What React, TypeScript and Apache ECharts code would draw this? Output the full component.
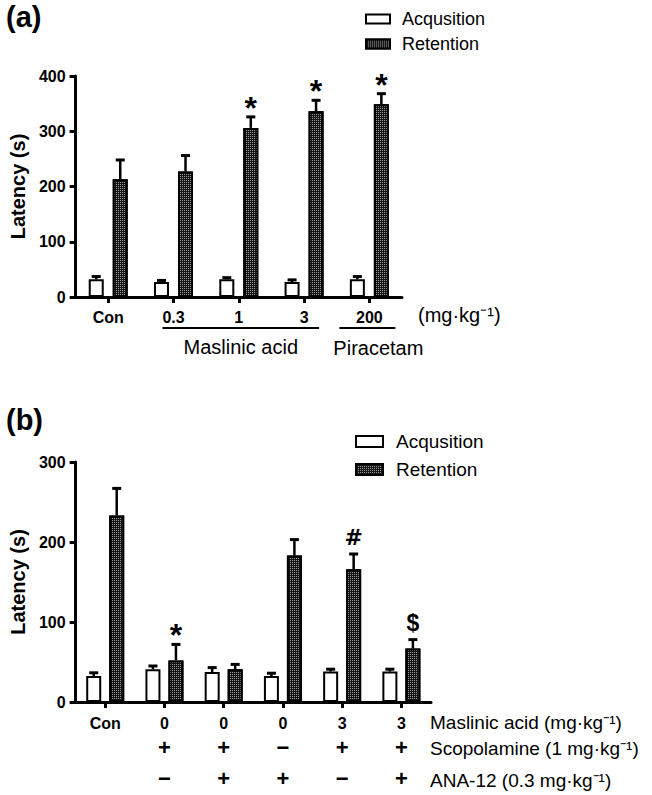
import React, { useEffect, useRef } from "react";
import * as echarts from "echarts";

// ---------- Data: panel (a) ----------
const catsA = ["Con", "0.3", "1", "3", "200"];
const acqA = [32, 27, 32, 27, 32];
const acqTopA = [37, 30, 35, 31, 37];
const retA = [213, 227, 306, 336, 349];
const retTopA = [248, 256, 326, 356, 368];
const sigA = ["", "", "*", "*", "*"];
const yTicksA = { min: 0, max: 400, interval: 100 };

// ---------- Data: panel (b) ----------
const catsB = ["Con", "0", "0", "0", "3", "3"];
const scopRowB = ["", "+", "+", "−", "+", "+"];
const anaRowB = ["", "−", "+", "+", "−", "+"];
const acqB = [32.5, 41, 37.5, 32.5, 38, 38];
const acqTopB = [36.5, 45, 43, 36, 41, 41];
const retB = [233, 52, 41, 183, 166, 67];
const retTopB = [267, 72, 47, 203, 185, 78];
const sigB = ["", "*", "", "", "#", "$"];
const yTicksB = { min: 0, max: 300, interval: 100 };

// ---------- Texts ----------
const seriesNames = ["Acqusition", "Retention"];
const yTitle = "Latency (s)";
const panelA = "(a)";
const panelB = "(b)";
const unitA = "(mg·kg⁻¹)";
const groupA1 = "Maslinic acid";
const groupA2 = "Piracetam";
const rowLabelsB = ["Maslinic acid (mg·kg⁻¹)", "Scopolamine (1 mg·kg⁻¹)", "ANA-12 (0.3 mg·kg⁻¹)"];

const FONT = "'Liberation Sans', Arial, Helvetica, sans-serif";
const HEAVY = "'DejaVu Sans', 'Liberation Sans', sans-serif";

const BAR_W = 15;
const GAP_A = 9;
const GAP_B = 8;

const sigStyle: Record<string, { size: number; dy: number; font: string }> = {
  "*": { size: 32, dy: 9, font: FONT },
  "#": { size: 22, dy: 17, font: HEAVY },
  "$": { size: 23, dy: 17, font: FONT },
};

const decal = {
  symbol: "rect",
  symbolSize: 1,
  color: "#9a9a9a",
  dashArrayX: [1, 1],
  dashArrayY: [1, 1],
  rotation: 0,
};

function errSeries(
  name: string,
  xi: number,
  yi: number,
  vals: number[],
  tops: number[],
  sigs: string[],
  offset: number
) {
  return {
    type: "custom",
    name: name + "-err",
    xAxisIndex: xi,
    yAxisIndex: yi,
    z: 5,
    silent: true,
    encode: { x: 0, y: [1, 2] },
    data: vals.map((v, i) => [i, v, tops[i]]),
    renderItem: (params: any, api: any) => {
      const idx = api.value(0);
      const base = api.coord([idx, api.value(1)]);
      const top = api.coord([idx, api.value(2)]);
      const x = base[0] + offset;
      const children: any[] = [
        { type: "line", shape: { x1: x, y1: base[1], x2: x, y2: top[1] }, style: { stroke: "#000", lineWidth: 2.5 } },
        { type: "line", shape: { x1: x - 4.5, y1: top[1], x2: x + 4.5, y2: top[1] }, style: { stroke: "#000", lineWidth: 3 } },
      ];
      const s = sigs[params.dataIndex];
      if (s) {
        const st = sigStyle[s];
        children.push({
          type: "text",
          x: x,
          y: top[1] - st.dy,
          style: {
            text: s,
            fontSize: st.size,
            fontWeight: "bold",
            fontFamily: st.font,
            fill: "#000",
            textAlign: "center",
            align: "center",
            textVerticalAlign: "middle",
            verticalAlign: "middle",
          },
        });
      }
      return { type: "group", children };
    },
  };
}

export default function App() {
  const ref = useRef<HTMLDivElement>(null);

  useEffect(() => {
    document.body.style.margin = "0";
    const chart = echarts.init(ref.current!, null, { renderer: "svg" });

    const axisLine = { show: true, lineStyle: { color: "#000", width: 3 } };
    const axisTick = { show: true, length: 6, lineStyle: { color: "#000", width: 3 } };
    const tickLabel = { fontWeight: "bold", fontSize: 16, color: "#000", fontFamily: FONT };

    const gridA = { left: 68, top: 76, width: 334, height: 221 };
    const gridB = { left: 70, top: 462, width: 361, height: 240 };

    const yAxisBase = (g: number, t: { min: number; max: number; interval: number }) => ({
      type: "value",
      gridIndex: g,
      min: t.min,
      max: t.max,
      interval: t.interval,
      axisLine,
      axisTick,
      splitLine: { show: false },
      axisLabel: { ...tickLabel, margin: 10 },
      name: yTitle,
      nameLocation: "middle",
      nameGap: 42,
      nameTextStyle: { fontWeight: "bold", fontSize: 20, color: "#000", fontFamily: FONT },
    });

    const rowAxis = (data: string[], offset: number) => ({
      type: "category",
      gridIndex: 1,
      position: "bottom",
      offset,
      data,
      axisLine: { show: false },
      axisTick: { show: false },
      axisLabel: { interval: 0, fontWeight: "bold", fontSize: 22, color: "#000", fontFamily: FONT, margin: 0 },
    });

    const acqStyle = { color: "#fff", borderColor: "#000", borderWidth: 2 };
    const retStyle = { color: "#151515", borderColor: "#000", borderWidth: 2, decal };

    const legendBase = {
      data: seriesNames,
      orient: "vertical",
      icon: "rect",
      selectedMode: false,
    };

    chart.setOption({
      animation: false,
      backgroundColor: "#fff",
      textStyle: { fontFamily: FONT },
      grid: [gridA, gridB],
      legend: [
        {
          ...legendBase,
          left: 360,
          top: 5,
          itemWidth: 24,
          itemHeight: 9,
          itemGap: 7,
          textStyle: { fontSize: 18, color: "#000", fontFamily: FONT, padding: [0, 0, 0, 7] },
        },
        {
          ...legendBase,
          left: 350,
          top: 427,
          itemWidth: 27,
          itemHeight: 11,
          itemGap: 9,
          textStyle: { fontSize: 19, color: "#000", fontFamily: FONT, padding: [0, 0, 0, 8] },
        },
      ],
      xAxis: [
        {
          type: "category",
          gridIndex: 0,
          data: catsA,
          axisLine,
          axisTick: { ...axisTick, alignWithLabel: true },
          axisLabel: { ...tickLabel, interval: 0, margin: 12 },
        },
        {
          type: "category",
          gridIndex: 1,
          data: catsB,
          axisLine,
          axisTick: { ...axisTick, alignWithLabel: true },
          axisLabel: { ...tickLabel, interval: 0, margin: 13 },
        },
        rowAxis(scopRowB, 34),
        rowAxis(anaRowB, 65),
      ],
      yAxis: [yAxisBase(0, yTicksA), yAxisBase(1, yTicksB)],
      series: [
        { type: "bar", name: seriesNames[0], xAxisIndex: 0, yAxisIndex: 0, data: acqA, barWidth: BAR_W, barGap: (GAP_A / BAR_W) * 100 + "%", itemStyle: acqStyle },
        { type: "bar", name: seriesNames[1], xAxisIndex: 0, yAxisIndex: 0, data: retA, barWidth: BAR_W, itemStyle: retStyle },
        errSeries("acqA", 0, 0, acqA, acqTopA, sigA.map(() => ""), -(BAR_W + GAP_A) / 2),
        errSeries("retA", 0, 0, retA, retTopA, sigA, (BAR_W + GAP_A) / 2),
        { type: "bar", name: seriesNames[0], xAxisIndex: 1, yAxisIndex: 1, data: acqB, barWidth: BAR_W, barGap: (GAP_B / BAR_W) * 100 + "%", itemStyle: acqStyle },
        { type: "bar", name: seriesNames[1], xAxisIndex: 1, yAxisIndex: 1, data: retB, barWidth: BAR_W, itemStyle: retStyle },
        errSeries("acqB", 1, 1, acqB, acqTopB, sigB.map(() => ""), -(BAR_W + GAP_B) / 2),
        errSeries("retB", 1, 1, retB, retTopB, sigB, (BAR_W + GAP_B) / 2),
      ],
    });

    const cA = (i: number) => chart.convertToPixel({ gridIndex: 0 } as any, [i, 0]) as number[];
    const cB = (i: number) => chart.convertToPixel({ gridIndex: 1 } as any, [i, 0]) as number[];
    const l1x1 = cA(1)[0] - 11;
    const l1x2 = cA(3)[0] + 15;
    const l2x1 = cA(4)[0] - 30;
    const l2x2 = cA(4)[0] + 26;
    const baseA = cA(0)[1];
    const baseB = cB(0)[1];
    const rightB = gridB.left + gridB.width - 1;

    const txt = (text: string, x: number, y: number, size: number, align = "left", weight = "normal") => ({
      type: "text",
      x,
      y,
      style: {
        text,
        fontSize: size,
        fontWeight: weight,
        fontFamily: FONT,
        fill: "#000",
        textAlign: align,
        textVerticalAlign: "middle",
      },
    });

    chart.setOption({
      graphic: [
        txt(panelA, 6, 17, 29, "left", "bold"),
        txt(panelB, 6, 420, 29, "left", "bold"),
        txt(unitA, gridA.left + gridA.width + 16, baseA + 18, 20),
        { type: "line", shape: { x1: l1x1, y1: baseA + 31, x2: l1x2, y2: baseA + 31 }, style: { stroke: "#000", lineWidth: 2 } },
        { type: "line", shape: { x1: l2x1, y1: baseA + 31, x2: l2x2, y2: baseA + 31 }, style: { stroke: "#000", lineWidth: 2 } },
        txt(groupA1, (l1x1 + l1x2) / 2, baseA + 50, 20, "center"),
        txt(groupA2, (l2x1 + l2x2) / 2 + 11, baseA + 51, 20, "center"),
        txt(rowLabelsB[0], rightB, baseB + 20, 19),
        txt(rowLabelsB[1], rightB, baseB + 46, 19),
        txt(rowLabelsB[2], rightB, baseB + 78, 19),
      ],
    });

    return () => chart.dispose();
  }, []);

  return <div ref={ref} style={{ width: 652, height: 795 }} />;
}
